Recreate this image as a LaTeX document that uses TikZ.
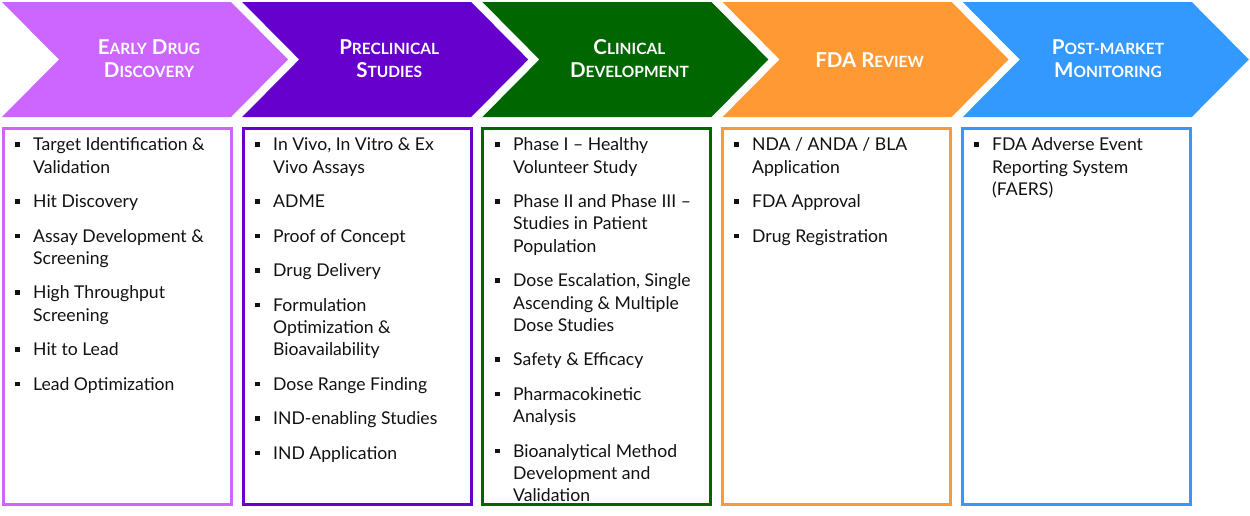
\documentclass[tikz,border=0pt]{standalone}
\usepackage{fontspec}
\setmainfont{Lato}
\definecolor{cA}{HTML}{CC66FF}
\definecolor{cB}{HTML}{6600CC}
\definecolor{cC}{HTML}{006600}
\definecolor{cD}{HTML}{FF9933}
\definecolor{cE}{HTML}{3399FF}
\definecolor{txt}{HTML}{111111}
\newcommand\Bg[1]{{\fontsize{20.5}{23}\selectfont #1}}
\newcommand\Sm[1]{{\fontsize{15.5}{23}\selectfont #1}}
\newcommand\bl{\makebox[18pt][l]{\rule[4pt]{4.5pt}{4.5pt}}}
\newcommand\ind{\hspace*{18pt}}
\tikzset{
  ttl/.style={text=white, font=\bfseries\fontsize{20.5}{23}\selectfont, align=center, inner sep=0pt},
  body/.style={anchor=north west, inner sep=0pt, align=left, text=txt,
    font=\fontsize{17.6}{22.3}\selectfont}
}
\begin{document}
\begin{tikzpicture}[x=1pt,y=-1pt]
\useasboundingbox (0,0) rectangle (1250,515);
\foreach \i/\c in {0/cA,1/cB,2/cC,3/cD,4/cE}{
  \pgfmathsetmacro\xo{2+240.2*\i}
  \fill[\c] (\xo,2) -- ++(229,0) -- ++(57,57.5) -- ++(-57,57.5) -- ++(-229,0) -- ++(57,-57.5) -- cycle;
  \pgfmathsetmacro\bx{3.5+239.7*\i}
  \draw[\c, line width=3pt] (\bx,128.5) rectangle ++(228,376);
}
\node[ttl] (t1) at (149,59) {\Bg{E}\Sm{ARLY} \Bg{D}\Sm{RUG}\\\Bg{D}\Sm{ISCOVERY}};
\node[ttl] (t2) at (389.2,59) {\Bg{P}\Sm{RECLINICAL}\\\Bg{S}\Sm{TUDIES}};
\node[ttl] (t3) at (629.4,59) {\Bg{C}\Sm{LINICAL}\\\Bg{D}\Sm{EVELOPMENT}};
\node[ttl] (t4) at (869.6,60) {\Bg{FDA R}\Sm{EVIEW}};
\node[ttl] (t5) at (1108,59) {\Bg{P}\Sm{OST-MARKET}\\\Bg{M}\Sm{ONITORING}};

\node[body] (b1) at (15,135) {\bl\strut Target Identification \&\\ \ind Validation\\[12.2pt]
\bl Hit Discovery\\[12.2pt]
\bl Assay Development \&\\ \ind Screening\\[12.2pt]
\bl High Throughput\\ \ind Screening\\[12.2pt]
\bl Hit to Lead\\[12.2pt]
\bl Lead Optimization};

\node[body] (b2) at (255,135) {\bl\strut In Vivo, In Vitro \& Ex\\ \ind Vivo Assays\\[12.2pt]
\bl ADME\\[12.2pt]
\bl Proof of Concept\\[12.2pt]
\bl Drug Delivery\\[12.2pt]
\bl Formulation\\ \ind Optimization \&\\ \ind Bioavailability\\[12.2pt]
\bl Dose Range Finding\\[12.2pt]
\bl IND-enabling Studies\\[12.2pt]
\bl IND Application};

\node[body] (b3) at (495,135) {\bl\strut Phase I – Healthy\\ \ind Volunteer Study\\[12.2pt]
\bl Phase II and Phase III –\\ \ind Studies in Patient\\ \ind Population\\[12.2pt]
\bl Dose Escalation, Single\\ \ind Ascending \& Multiple\\ \ind Dose Studies\\[12.2pt]
\bl Safety \& Efficacy\\[12.2pt]
\bl Pharmacokinetic\\ \ind Analysis\\[12.2pt]
\bl Bioanalytical Method\\ \ind Development and\\ \ind Validation};

\node[body] (b4) at (734,135) {\bl\strut NDA / ANDA / BLA\\ \ind Application\\[12.2pt]
\bl FDA Approval\\[12.2pt]
\bl Drug Registration};

\node[body] (b5) at (974,135) {\bl\strut FDA Adverse Event\\ \ind Reporting System\\ \ind (FAERS)};
\end{tikzpicture}
\end{document}
